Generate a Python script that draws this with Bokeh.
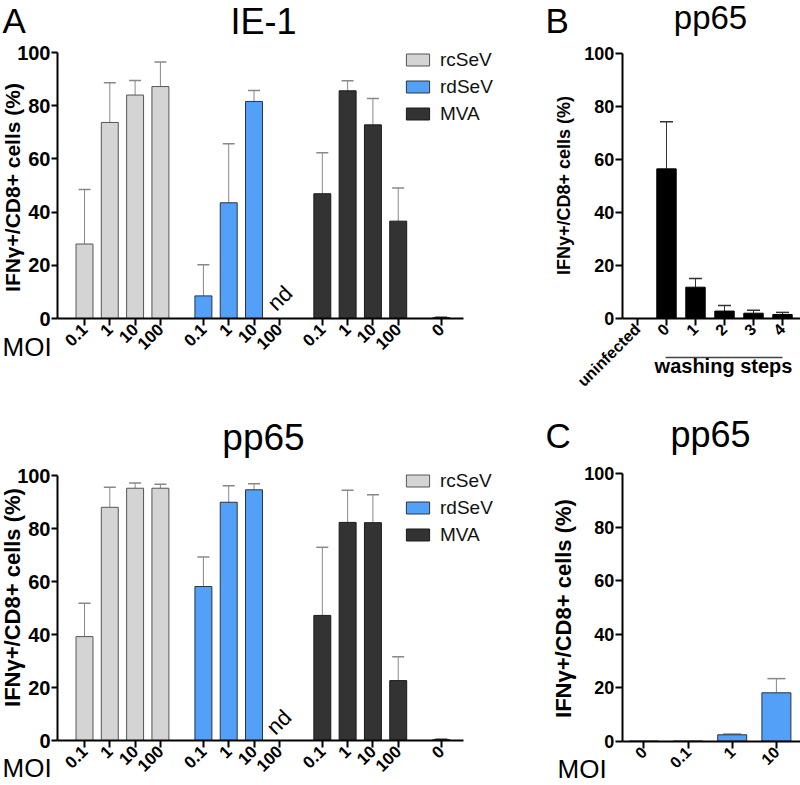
import math
from bokeh.plotting import figure
from bokeh.models import (Range1d, FixedTicker, Label, Legend, LegendItem,
                          Whisker, TeeHead, ColumnDataSource, LinearAxis)
from bokeh.layouts import row, column
from bokeh.embed import file_html
from bokeh.resources import INLINE

# ---------------- data ----------------
moi_labels = ["0.1", "1", "10", "100"]
series_names = ["rcSeV", "rdSeV", "MVA"]
uninf_label = "0"
nd_text = "nd"

# Panel A top: IE-1 (None = not done, "nd")
ie1_rcsev = [28, 73.7, 84, 87.2]
ie1_rcsev_err = [20.5, 14.9, 5.5, 9.2]
ie1_rdsev = [8.5, 43.5, 81.6, None]
ie1_rdsev_err = [11.7, 22.2, 4.1, None]
ie1_mva = [46.9, 85.6, 72.8, 36.6]
ie1_mva_err = [15.4, 3.8, 9.9, 12.5]
ie1_uninf = 0.3
ie1_uninf_err = 0.2

# Panel A bottom: pp65
pp65_rcsev = [39.2, 88, 95.2, 95.2]
pp65_rcsev_err = [12.6, 7.6, 2.0, 1.5]
pp65_rdsev = [58.1, 89.9, 94.6, None]
pp65_rdsev_err = [11.1, 6.2, 2.3, None]
pp65_mva = [47.2, 82.3, 82.2, 22.6]
pp65_mva_err = [25.7, 12.1, 10.5, 9.0]
pp65_uninf = 0.3
pp65_uninf_err = 0.2

# Panel B: washing steps
wash_labels = ["uninfected", "0", "1", "2", "3", "4"]
wash_vals = [0, 56.4, 11.8, 2.8, 2.0, 1.5]
wash_err = [0, 17.8, 3.3, 2.1, 1.1, 0.8]

# Panel C: rdSeV MOI
c_labels = ["0", "0.1", "1", "10"]
c_vals = [0, 0, 2.4, 18.1]
c_err = [0, 0, 0.3, 5.3]

y_ticks = [0, 20, 40, 60, 80, 100]

# ---------------- style ----------------
FONT = "Liberation Sans"
COL_RC = "#d4d4d4"
COL_RD = "#52a0f8"
COL_MVA = "#333333"
LINE_RC = "#555555"
LINE_RD = "#2b3440"
LINE_MVA = "#1a1a1a"
ERR_COL = "#888888"
GROUP_STEP = 4.7


class Geo:
    """Maps page pixels of a panel to data / screen units of a figure whose frame fills its canvas."""
    def __init__(self, left, top, width, height, x0, xpx, y0, ypx):
        self.left, self.top, self.width, self.height = left, top, width, height
        self.x0, self.xpx, self.y0, self.ypx = x0, xpx, y0, ypx

    def x_range(self):
        return Range1d(self.dx(self.left), self.dx(self.left + self.width))

    def y_range(self):
        return Range1d(self.dy(self.top + self.height), self.dy(self.top))

    def dx(self, X):
        return (X - self.x0) / self.xpx

    def dy(self, Y):
        return (self.y0 - Y) / self.ypx

    def sx(self, X):
        return X - self.left

    def sy(self, Y):
        return self.top + self.height - Y


def base_fig(g, axis_x_img, axis_x_end_img, ytick_len=6):
    p = figure(width=g.width, height=g.height, x_range=g.x_range(), y_range=g.y_range(),
               output_backend="svg", toolbar_location=None, tools="", title=None,
               min_border=0, min_border_left=0, min_border_right=0,
               min_border_top=0, min_border_bottom=0)
    if p.title is not None:
        p.title.visible = False
    p.outline_line_color = None
    p.xgrid.visible = False
    p.ygrid.visible = False
    p.background_fill_color = "white"
    p.border_fill_color = "white"
    xa, ya = p.xaxis[0], p.yaxis[0]
    for ax in (xa, ya):
        ax.axis_line_width = 2
        ax.axis_line_color = "black"
        ax.major_tick_line_width = 2
        ax.major_tick_line_color = "black"
        ax.major_tick_in = 0
        ax.minor_tick_line_color = None
        ax.major_label_text_font = FONT
        ax.major_label_text_font_style = "bold"
        ax.major_label_text_color = "black"
    xa.major_tick_out = 7
    ya.major_tick_out = ytick_len
    ya.ticker = FixedTicker(ticks=y_ticks)
    ya.bounds = (0, 100)
    ya.fixed_location = g.dx(axis_x_img)
    xa.fixed_location = 0
    xa.bounds = (g.dx(axis_x_img), g.dx(axis_x_end_img))
    ya.major_label_standoff = 1
    xa.major_label_standoff = 1
    xa.major_label_orientation = math.pi / 4
    return p, xa, ya


def add_label(p, g, text, X, Y, size, bold=False, align="left", angle_deg=0.0):
    # Y is the vertical middle of the text line (page pixels)
    p.add_layout(Label(x=g.sx(X), y=g.sy(Y), x_units="screen", y_units="screen", text=text,
                       text_font=FONT, text_font_size=size,
                       text_font_style="bold" if bold else "normal",
                       text_align=align, text_baseline="middle",
                       angle=angle_deg, angle_units="deg",
                       text_color="black"))


def add_rotated_note(p, g, text, X_right, Y_top, size):
    # a 45 degree text whose upper-right end sits at (X_right, Y_top), drawn as a bare axis label
    tx = g.dx(X_right)
    ax = LinearAxis(fixed_location=g.dy(Y_top), ticker=FixedTicker(ticks=[tx]),
                    major_label_overrides={tx: text}, major_label_orientation=math.pi / 4,
                    axis_line_color=None, major_tick_line_color=None, minor_tick_line_color=None,
                    major_tick_out=0, major_tick_in=0, major_label_standoff=0,
                    major_label_text_font=FONT, major_label_text_font_style="normal",
                    major_label_text_font_size=size, major_label_text_color="black",
                    bounds=(tx - 1, tx + 1))
    p.add_layout(ax, "below")


def add_err(p, xs, vals, errs, cap, color):
    bx, lo, hi = [], [], []
    for x, v, e in zip(xs, vals, errs):
        if v is None or e is None or e <= 0:
            continue
        bx.append(x)
        lo.append(v)
        hi.append(v + e)
    src = ColumnDataSource(dict(base=bx, lower=lo, upper=hi))
    p.add_layout(Whisker(source=src, base="base", lower="lower", upper="upper",
                         dimension="height", line_color=color, line_width=1,
                         upper_head=TeeHead(size=cap, line_color=color, line_width=1.5),
                         lower_head=None))


def moi_panel(g, title, title_Y, title_size, ylab_size, ylab_Y,
              rc, rc_err, rd, rd_err, mva, mva_err, un, un_err, legend_top_Y,
              nd_XY, moi_Y, letter=None):
    p, xa, ya = base_fig(g, 57, 463)
    xa.major_label_text_font_size = "17px"
    ya.major_label_text_font_size = "20px"

    ticks, overrides = [], {}
    renderers = []
    has_nd = False
    groups = [(rc, rc_err, COL_RC, LINE_RC), (rd, rd_err, COL_RD, LINE_RD),
              (mva, mva_err, COL_MVA, LINE_MVA)]
    for gi, (vals, errs, fc, lc) in enumerate(groups):
        xs = [gi * GROUP_STEP + i for i in range(len(moi_labels))]
        for x, lab in zip(xs, moi_labels):
            ticks.append(x)
            overrides[x] = lab
        bx = [x for x, v in zip(xs, vals) if v is not None]
        bv = [v for v in vals if v is not None]
        r = p.vbar(x=bx, top=bv, width=0.67, bottom=0, fill_color=fc, line_color=lc, line_width=1)
        renderers.append(r)
        add_err(p, xs, vals, errs, 12, ERR_COL)
        if any(v is None for v in vals):
            has_nd = True
    ux = 3 * GROUP_STEP
    ticks.append(ux)
    overrides[ux] = uninf_label
    p.vbar(x=[ux], top=[un], width=0.67, fill_color=COL_MVA, line_color=LINE_MVA)
    add_err(p, [ux], [un], [un_err], 12, "#444444")

    xa.ticker = FixedTicker(ticks=ticks)
    xa.major_label_overrides = overrides
    if has_nd:
        add_rotated_note(p, g, nd_text, nd_XY[0], nd_XY[1], "22px")

    legend_h = 3 * 22 + 2 * 5
    legend = Legend(items=[LegendItem(label=n, renderers=[r]) for n, r in zip(series_names, renderers)],
                    location=(g.sx(403), g.sy(legend_top_Y + legend_h)), orientation="vertical",
                    glyph_width=29, glyph_height=15, label_height=22, spacing=5,
                    label_standoff=8, padding=0, margin=0,
                    border_line_color=None, background_fill_alpha=0,
                    label_text_font=FONT, label_text_font_size="19px",
                    label_text_color="#111111")
    p.add_layout(legend, "center")

    add_label(p, g, title, 263, title_Y, title_size, align="center")
    add_label(p, g, "IFNγ+/CD8+ cells (%)", 12, ylab_Y, ylab_size, bold=True,
              align="center", angle_deg=90)
    add_label(p, g, "MOI", 2, moi_Y, "26px")
    if letter:
        add_label(p, g, letter, 2, 19.5, "35px")
    return p


gA = Geo(0, 0, 520, 388, 84, 25.3, 318, 2.66)
gA2 = Geo(0, 388, 520, 396, 84, 25.3, 740, 2.65)
gB = Geo(520, 0, 280, 388, 637, 29, 318, 2.653)
gC = Geo(520, 388, 280, 396, 643.3, 44.2, 740.7, 2.674)

pA = moi_panel(gA, "IE-1", 20.5, "36px", "21px", 187,
               ie1_rcsev, ie1_rcsev_err, ie1_rdsev, ie1_rdsev_err, ie1_mva, ie1_mva_err,
               ie1_uninf, ie1_uninf_err, 48.5, (288, 289), 346, letter="A")
pA2 = moi_panel(gA2, "pp65", 437, "37px", "22px", 597,
                pp65_rcsev, pp65_rcsev_err, pp65_rdsev, pp65_rdsev_err, pp65_mva, pp65_mva_err,
                pp65_uninf, pp65_uninf_err, 469.5, (287, 713), 767.5)

# ---------------- Panel B ----------------
pB, bxa, bya = base_fig(gB, 621.7, 800, ytick_len=7)
bya.major_label_text_font_size = "18px"
bxa.major_label_text_font_size = "16px"
bxs = list(range(len(wash_labels)))
pB.vbar(x=bxs, top=wash_vals, width=0.67, fill_color="black", line_color="black")
add_err(pB, bxs, wash_vals, wash_err, 13, "#333333")
bxa.ticker = FixedTicker(ticks=bxs)
bxa.major_label_overrides = {x: l for x, l in zip(bxs, wash_labels)}
add_label(pB, gB, "B", 545, 19.5, "35px")
add_label(pB, gB, "pp65", 710, 17, "33px", align="center")
add_label(pB, gB, "IFNy+/CD8+ cells (%)", 563, 185, "18px", bold=True,
          align="center", angle_deg=90)
wash_y = gB.dy(357)
pB.segment(x0=[bxs[1] - 0.03], y0=[wash_y], x1=[bxs[-1]], y1=[wash_y],
           line_width=1.5, line_color="#444444")
add_label(pB, gB, "washing steps", 723, 365.5, "20px", bold=True, align="center")

# ---------------- Panel C ----------------
pC, cxa, cya = base_fig(gC, 621.7, 800, ytick_len=7)
cya.major_label_text_font_size = "18px"
cxa.major_label_text_font_size = "16px"
cxs = list(range(len(c_labels)))
pC.vbar(x=cxs, top=c_vals, width=0.656, fill_color=COL_RD, line_color=LINE_RD)
add_err(pC, cxs, c_vals, c_err, 18, ERR_COL)
cxa.ticker = FixedTicker(ticks=cxs)
cxa.major_label_overrides = {x: l for x, l in zip(cxs, c_labels)}
add_label(pC, gC, "C", 545, 435, "35px")
add_label(pC, gC, "pp65", 710, 434, "36px", align="center")
add_label(pC, gC, "IFNγ+/CD8+ cells (%)", 563, 608, "22px", bold=True,
          align="center", angle_deg=90)
add_label(pC, gC, "MOI", 557, 768.5, "26px")

layout = column(row(pA, pB), row(pA2, pC))
open("out.html", "w").write(file_html(layout, INLINE))
